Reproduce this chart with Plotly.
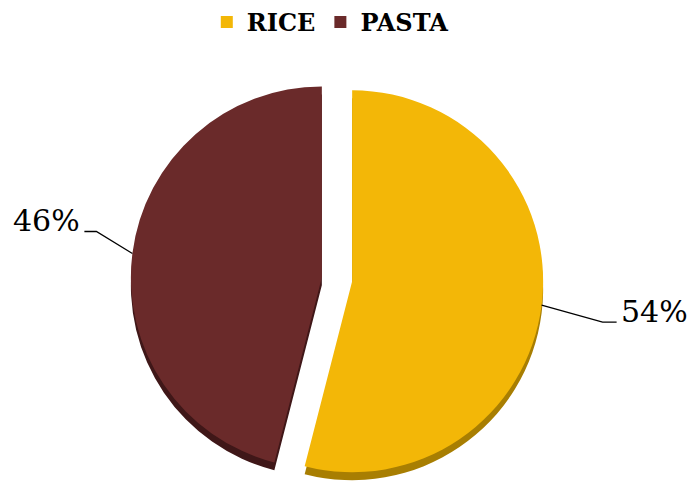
import math
import plotly.graph_objects as go

# Share of respondents preferring each staple
labels = ["RICE", "PASTA"]
shares = [54, 46]

face_colors = ["#F3B707", "#6A2A2A"]
side_colors = ["#A87E02", "#3F1718"]

W, H = 691, 494
PULL = 0.08
DOM_X = [0.0, 0.9754]
DOM_Y = [0.017, 0.852]
SIDE_DROP = 0.016          # depth of the darker rim under the pie
FONT = "DejaVu Serif"

# leader-line shape per slice: (elbow dx, elbow dy, horizontal tail) in px
leaders = [(61, 17, 14), (-36, -22, -12)]

fig = go.Figure()

# darker copy slightly lower gives the pie a thin 3-D rim
fig.add_trace(go.Pie(
    labels=labels, values=shares, sort=False, direction="clockwise",
    rotation=0, pull=[PULL] * len(shares),
    marker=dict(colors=side_colors, line=dict(width=0)),
    textinfo="none", hoverinfo="skip", showlegend=False,
    domain=dict(x=DOM_X, y=[DOM_Y[0] - SIDE_DROP, DOM_Y[1] - SIDE_DROP]),
))

fig.add_trace(go.Pie(
    labels=labels, values=shares, sort=False, direction="clockwise",
    rotation=0, pull=[PULL] * len(shares),
    marker=dict(colors=face_colors, line=dict(width=0)),
    textinfo="none", hoverinfo="label+percent",
    domain=dict(x=DOM_X, y=DOM_Y),
))

# pie geometry in pixels, used to attach the outside labels
cx = W * (DOM_X[0] + DOM_X[1]) / 2
cy = H * (1 - (DOM_Y[0] + DOM_Y[1]) / 2)
r = min(W * (DOM_X[1] - DOM_X[0]), H * (DOM_Y[1] - DOM_Y[0])) / (2 * (1 + PULL))
total = sum(shares)

def to_paper(x, y):
    return x / W, 1 - y / H

shapes, annotations = [], []
cum = 0
for val, (ex, ey, tail) in zip(shares, leaders):
    theta = 2 * math.pi * (cum + val / 2) / total
    cum += val
    ax = cx + (1 + PULL) * r * math.sin(theta)
    ay = cy - (1 + PULL) * r * math.cos(theta)
    bx, by = ax + ex, ay + ey
    tx = bx + tail
    p = [to_paper(ax, ay), to_paper(bx, by), to_paper(tx, by)]
    shapes.append(dict(
        type="path", xref="paper", yref="paper",
        path=f"M{p[0][0]},{p[0][1]} L{p[1][0]},{p[1][1]} L{p[2][0]},{p[2][1]}",
        line=dict(color="#000000", width=1.3),
    ))
    lx, ly = to_paper(tx + (2 if tail > 0 else -2), by - 11)
    annotations.append(dict(
        x=lx, y=ly, xref="paper", yref="paper", showarrow=False,
        text=f"{val}%", xanchor="left" if tail > 0 else "right", yanchor="middle",
        font=dict(family=FONT, size=30, color="#000000"),
    ))

fig.update_layout(
    width=W, height=H,
    margin=dict(l=0, r=0, t=0, b=0),
    paper_bgcolor="#FFFFFF", plot_bgcolor="#FFFFFF",
    showlegend=True,
    legend=dict(
        orientation="h", x=0.478, xanchor="center", y=1.0, yanchor="top",
        font=dict(family=FONT, size=24, color="#000000", weight="bold"),
        traceorder="normal",
    ),
    shapes=shapes, annotations=annotations,
)

fig.write_html("out.html")
